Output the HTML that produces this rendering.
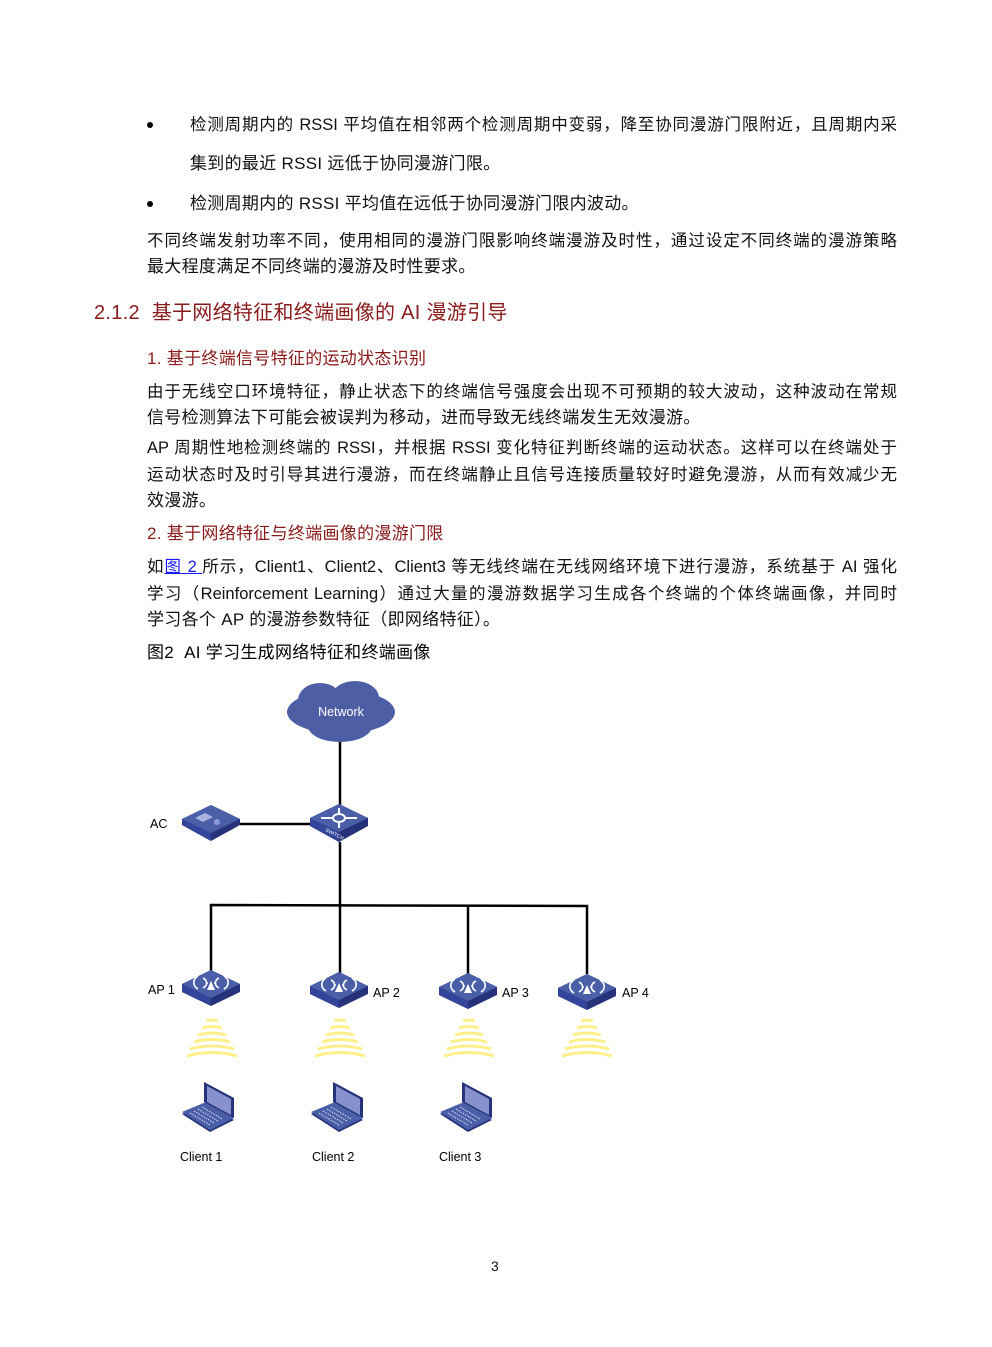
<!DOCTYPE html>
<html><head><meta charset="utf-8"><style>
html,body{margin:0;padding:0;background:#fff;}
body{width:992px;height:1347px;position:relative;overflow:hidden;font-family:"Liberation Sans","Noto Sans CJK SC",sans-serif;color:#111;font-size:17px;}
.l{position:absolute;white-space:nowrap;line-height:22px;letter-spacing:0.3px;}
.j{width:750px;text-align:justify;text-align-last:justify;white-space:normal;font-size:16.5px;letter-spacing:0;}
.j1{width:707px;}
.r{color:#8b1a1a;}
.b{position:absolute;width:6px;height:6px;border-radius:50%;background:#000;}
svg{position:absolute;left:0;top:0;}
</style></head><body>
<div class="b" style="left:147px;top:122px"></div>
<div class="l j j1" style="left:190px;top:114px">检测周期内的 RSSI 平均值在相邻两个检测周期中变弱，降至协同漫游门限附近，且周期内采</div>
<div class="l" style="left:190px;top:153px">集到的最近 RSSI 远低于协同漫游门限。</div>
<div class="b" style="left:147px;top:201px"></div>
<div class="l" style="left:190px;top:193px">检测周期内的 RSSI 平均值在远低于协同漫游门限内波动。</div>
<div class="l j" style="left:147px;top:230px">不同终端发射功率不同，使用相同的漫游门限影响终端漫游及时性，通过设定不同终端的漫游策略</div>
<div class="l" style="left:147px;top:256px">最大程度满足不同终端的漫游及时性要求。</div>
<div class="l r" style="left:94px;top:301px;font-size:20px;line-height:24px">2.1.2&nbsp; 基于网络特征和终端画像的 AI 漫游引导</div>
<div class="l r" style="left:147px;top:348px">1. 基于终端信号特征的运动状态识别</div>
<div class="l j" style="left:147px;top:381px">由于无线空口环境特征，静止状态下的终端信号强度会出现不可预期的较大波动，这种波动在常规</div>
<div class="l" style="left:147px;top:407px">信号检测算法下可能会被误判为移动，进而导致无线终端发生无效漫游。</div>
<div class="l j" style="left:147px;top:437px">AP 周期性地检测终端的 RSSI，并根据 RSSI 变化特征判断终端的运动状态。这样可以在终端处于</div>
<div class="l j" style="left:147px;top:464px">运动状态时及时引导其进行漫游，而在终端静止且信号连接质量较好时避免漫游，从而有效减少无</div>
<div class="l" style="left:147px;top:490px">效漫游。</div>
<div class="l r" style="left:147px;top:523px">2. 基于网络特征与终端画像的漫游门限</div>
<div class="l j" style="left:147px;top:556px">如<span style="color:#1a1aff;text-decoration:underline">图 2 </span>所示，Client1、Client2、Client3 等无线终端在无线网络环境下进行漫游，系统基于 AI 强化</div>
<div class="l j" style="left:147px;top:583px">学习（Reinforcement Learning）通过大量的漫游数据学习生成各个终端的个体终端画像，并同时</div>
<div class="l" style="left:147px;top:609px">学习各个 AP 的漫游参数特征（即网络特征）。</div>
<div class="l" style="left:147px;top:642px;color:#000">图2&nbsp; AI 学习生成网络特征和终端画像</div>
<div class="l" style="left:491px;top:1255px;font-size:14px">3</div>

<svg width="992" height="1347" viewBox="0 0 992 1347" font-family="Liberation Sans, sans-serif">
<defs>
<g id="ap">
<polygon points="-29,14 0,0 29,14 29,22 0,36 -29,22" fill="#26337a"/>
<polygon points="-29,14 0,28 0,36 -29,22" fill="#33449a"/>
<polygon points="-29,14 0,0 29,14 0,28" fill="#4b5fa8"/>
<polygon points="-4,20 0,11 4,20" fill="#fff"/>
<path d="M-8,9 a8,6 0 0,1 0,10 M8,9 a8,6 0 0,0 0,10 M-13,7 a10,8 0 0,0 0,13 M13,7 a10,8 0 0,1 0,13" fill="none" stroke="#fff" stroke-width="1.6" transform="translate(0,-1)"/>
<circle cx="-4" cy="13" r="1" fill="#fff"/><circle cx="4" cy="13" r="1" fill="#fff"/>
</g>
<g id="wv" fill="none" stroke="#fdf08a" stroke-width="3">
<path d="M-6,0 q6,-2 12,0"/><path d="M-10,7 q10,-3 20,0"/><path d="M-14,14 q14,-4 28,0"/><path d="M-18,21 q18,-5 36,0"/><path d="M-22,28 q22,-6 44,0"/><path d="M-25,35 q25,-7 50,0"/>
</g>
<g id="lp">
<polygon points="0,32 24,22 52,38 28,50" fill="#26337a"/>
<polygon points="0,30 24,20 52,36 28,48" fill="#4b5fa8"/>
<polygon points="22,0 52,16 52,36 22,20" fill="#26337a"/>
<polygon points="25,4 49,17 49,33 25,20" fill="#8792cc"/>
<g stroke="#dfe3f5" stroke-width="1" stroke-dasharray="1.5,1.2">
<line x1="8" y1="31" x2="28" y2="43"/><line x1="12" y1="29" x2="32" y2="41"/><line x1="16" y1="27" x2="36" y2="39"/><line x1="20" y1="25" x2="40" y2="37"/>
</g>
</g>
</defs>
<g stroke="#000" stroke-width="2.5" fill="none">
<line x1="340" y1="740" x2="340" y2="808"/>
<line x1="240" y1="824" x2="312" y2="824"/>
<line x1="340" y1="842" x2="340" y2="906"/>
<polyline points="211,972 211,905 587,906 587,974"/>
<line x1="468" y1="906" x2="468" y2="974"/>
<line x1="340" y1="906" x2="340" y2="974"/>
</g>
<g fill="#4d5ea4">
<ellipse cx="341" cy="712" rx="54" ry="22"/>
<ellipse cx="320" cy="700" rx="22" ry="17"/><ellipse cx="355" cy="698" rx="24" ry="17"/>
<ellipse cx="340" cy="726" rx="32" ry="16"/>
</g>
<text x="341" y="716" fill="#fff" font-size="12.5" text-anchor="middle">Network</text>
<g transform="translate(339,804)">
<polygon points="-29,14 0,0 29,14 29,22 0,38 -29,22" fill="#26337a"/>
<polygon points="-29,14 0,28 0,38 -29,22" fill="#33449a"/>
<polygon points="-29,14 0,0 29,14 0,28" fill="#4b5fa8"/>
<g stroke="#fff" stroke-width="2" fill="none"><line x1="-18" y1="14" x2="18" y2="14"/><line x1="0" y1="4" x2="0" y2="24"/><ellipse cx="0" cy="14" rx="6" ry="4" fill="#4b5fa8"/></g>
<text x="-14" y="27" fill="#fff" font-size="5" transform="rotate(27,-14,27)">SWITCH</text>
</g>
<g transform="translate(211,805)">
<polygon points="-29,14 0,0 29,14 29,20 0,36 -29,20" fill="#26337a"/>
<polygon points="-29,14 0,28 0,36 -29,20" fill="#33449a"/>
<polygon points="-29,14 0,0 29,14 0,28" fill="#4b5fa8"/>
<polygon points="-16,13 -6,8 2,12 -8,17" fill="#a9b4e0"/>
<circle cx="6" cy="17" r="3" fill="#8a98d6"/>
</g>
<text x="150" y="828" font-size="12.5">AC</text>
<use href="#ap" x="211" y="970"/>
<use href="#ap" x="339" y="972"/>
<use href="#ap" x="468" y="973"/>
<use href="#ap" x="587" y="974"/>
<text x="148" y="994" font-size="12.5">AP 1</text>
<text x="373" y="997" font-size="12.5">AP 2</text>
<text x="502" y="997" font-size="12.5">AP 3</text>
<text x="622" y="997" font-size="12.5">AP 4</text>
<use href="#wv" x="212" y="1021"/>
<use href="#wv" x="340" y="1021"/>
<use href="#wv" x="469" y="1021"/>
<use href="#wv" x="587" y="1021"/>
<use href="#lp" x="182" y="1082"/>
<use href="#lp" x="311" y="1082"/>
<use href="#lp" x="440" y="1082"/>
<text x="180" y="1161" font-size="12.5">Client 1</text>
<text x="312" y="1161" font-size="12.5">Client 2</text>
<text x="439" y="1161" font-size="12.5">Client 3</text>
</svg>
</body></html>
